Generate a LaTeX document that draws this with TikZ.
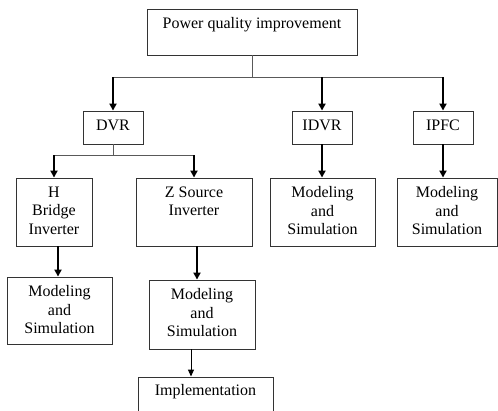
\documentclass[tikz,border=0pt]{standalone}
\usepackage{fontspec}
\setmainfont{Liberation Serif}
\usetikzlibrary{positioning, arrows.meta}

\begin{document}
\begin{tikzpicture}[
  x=1pt, y=-1pt,
  box/.style={draw=black!80, line width=0.9pt, inner sep=0pt},
  lbl/.style={inner sep=0pt, anchor=north, align=center, font=\fontsize{16}{18.4}\selectfont},
  bus/.style={draw=black!65, line width=1pt},
  arrow/.style={-{Triangle[length=7pt,width=7pt]}, line width=1.8pt},
  thinarrow/.style={-{Triangle[length=7pt,width=6pt]}, line width=1pt},
]
\useasboundingbox (0,0) rectangle (498,410);
\clip (0,0) rectangle (498,410);

% --- top level ---
\node[box, minimum width=210pt, minimum height=46pt] (top) at (252,32) {};
\node[lbl, below=9pt of top.north] (toplbl) {Power quality improvement};

% --- devices ---
\node[box, minimum width=60pt, minimum height=33pt] (dvr) at (113,127.5) {};
\node[box, minimum width=60pt, minimum height=33pt] (idvr) at (322,127.5) {};
\node[box, minimum width=60pt, minimum height=33pt] (ipfc) at (443,127.5) {};
\node[lbl, below=9pt of dvr.north] (dvrlbl) {DVR};
\node[lbl, below=9pt of idvr.north] (idvrlbl) {IDVR};
\node[lbl, below=9pt of ipfc.north] (ipfclbl) {IPFC};

% --- DVR inverters ---
\node[box, minimum width=76pt, minimum height=68pt] (hbridge) at (54,212) {};
\node[box, minimum width=116pt, minimum height=68pt] (zsource) at (194,212) {};
\node[lbl, below=9pt of hbridge.north] (hbridgelbl) {H\\Bridge\\Inverter};
\node[lbl, below=9pt of zsource.north] (zsourcelbl) {Z Source\\Inverter};

% --- modeling and simulation ---
\node[box, minimum width=105pt, minimum height=67pt] (msh) at (59.5,310.5) {};
\node[box, minimum width=106pt, minimum height=69pt] (msz) at (202,314.5) {};
\node[box, minimum width=105pt, minimum height=68pt] (msi) at (322.5,212) {};
\node[box, minimum width=100pt, minimum height=68pt] (msp) at (447,212) {};
\node[lbl, below=9pt of msh.north] (mshlbl) {Modeling\\and\\Simulation};
\node[lbl, below=9pt of msz.north] (mszlbl) {Modeling\\and\\Simulation};
\node[lbl, below=9pt of msi.north] (msilbl) {Modeling\\and\\Simulation};
\node[lbl, below=9pt of msp.north] (msplbl) {Modeling\\and\\Simulation};

% --- implementation ---
\node[box, minimum width=135pt, minimum height=50pt] (impl) at (205.5,402) {};
\node[lbl, below=8pt of impl.north] (impllbl) {Implementation};

% Connectors
\draw[bus] (top.south) -- ++(0,22) coordinate (b1);
\draw[bus] (dvr.north |- b1) -- (ipfc.north |- b1);
\draw[arrow] (dvr.north |- b1) -- (dvr.north);
\draw[arrow] (idvr.north |- b1) -- (idvr.north);
\draw[arrow] (ipfc.north |- b1) -- (ipfc.north);

\draw[bus] (dvr.south) -- ++(0,11) coordinate (b2);
\draw[bus] (hbridge.north |- b2) -- (zsource.north |- b2);
\draw[arrow] (hbridge.north |- b2) -- (hbridge.north);
\draw[arrow] (zsource.north |- b2) -- (zsource.north);

\draw[arrow] ([xshift=4pt]hbridge.south) -- ([xshift=4pt]hbridge.south |- msh.north);
\draw[arrow] ([xshift=3pt]zsource.south) -- ([xshift=3pt]zsource.south |- msz.north);
\draw[arrow] (idvr.south) -- (idvr.south |- msi.north);
\draw[arrow] (ipfc.south) -- (ipfc.south |- msp.north);
\draw[thinarrow] ([xshift=-11pt]msz.south) -- ([xshift=-11pt]msz.south |- impl.north);
\end{tikzpicture}
\end{document}
